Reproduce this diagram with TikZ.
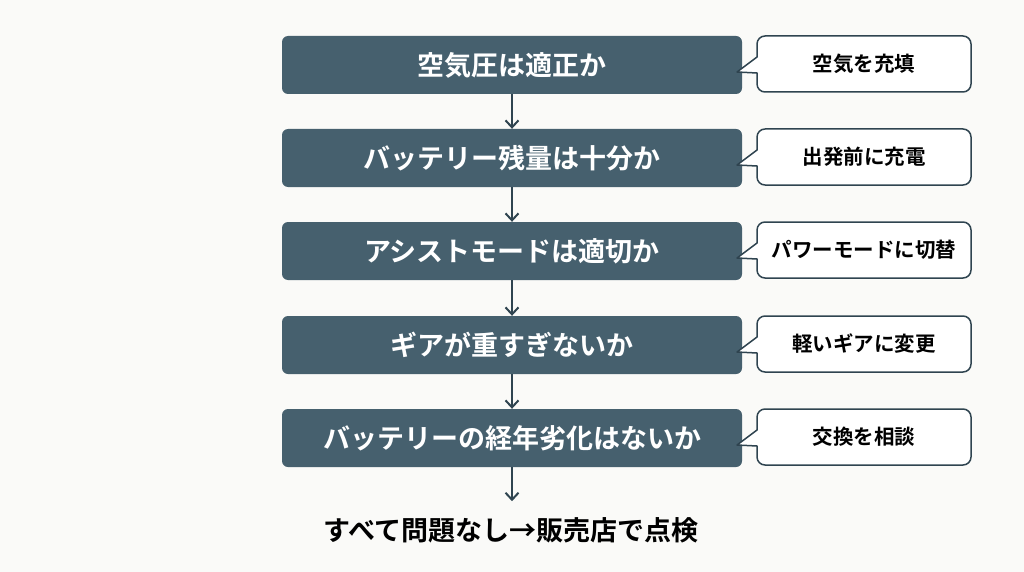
\documentclass[tikz,border=0pt]{standalone}
\usepackage{fontspec}
\newfontfamily\cjk{Noto Sans CJK JP}[BoldFont={Noto Sans CJK JP Bold}]
\usetikzlibrary{arrows.meta}
\definecolor{boxc}{HTML}{46606E}
\definecolor{edgec}{HTML}{2F4450}
\definecolor{bg}{HTML}{FAFAF8}
\begin{document}
\begin{tikzpicture}[x=1pt,y=-1pt,
  stepbox/.style={draw=none,fill=boxc,rounded corners=6pt,minimum width=460pt,minimum height=58pt,text=white,font=\cjk\bfseries\fontsize{27}{30}\selectfont,inner sep=0pt},
  note/.style={font=\cjk\bfseries\fontsize{20.5}{24}\selectfont,text=black},
  bubble/.style={draw=edgec,line width=1.5pt,fill=white,line join=round},
  arr/.style={draw=edgec,line width=2pt,-{Straight Barb[length=7pt,width=13pt]}}]
\fill[bg] (0,0) rectangle (1024,572);
\useasboundingbox (0,0) rectangle (1024,572);
\foreach \n/\y/\t/\c in {a/65/空気圧は適正か/空気を充填, b/158/バッテリー残量は十分か/出発前に充電, c/251/アシストモードは適切か/パワーモードに切替, d/345/ギアが重すぎないか/軽いギアに変更, e/438/バッテリーの経年劣化はないか/交換を相談}{
  \node[stepbox] (\n) at (512,\y) {\t};
  \draw[bubble] (757,\y-8) [rounded corners=8pt] -- (757,\y-29) -- (971,\y-29) -- (971,\y+27) -- (757,\y+27) [sharp corners] -- (757,\y+8) -- (737,\y+7) -- cycle;
  \node[note] (\n n) at (864,\y-1) {\c};
}
\node[font=\cjk\bfseries\fontsize{27}{30}\selectfont] (f) at (511,530) {すべて問題なし→販売店で点検};
\draw[arr] (a) -- (b);
\draw[arr] (b) -- (c);
\draw[arr] (c) -- (d);
\draw[arr] (d) -- (e);
\draw[arr] (e.south) -- ++(0,34) coordinate (fe);
\end{tikzpicture}
\end{document}
